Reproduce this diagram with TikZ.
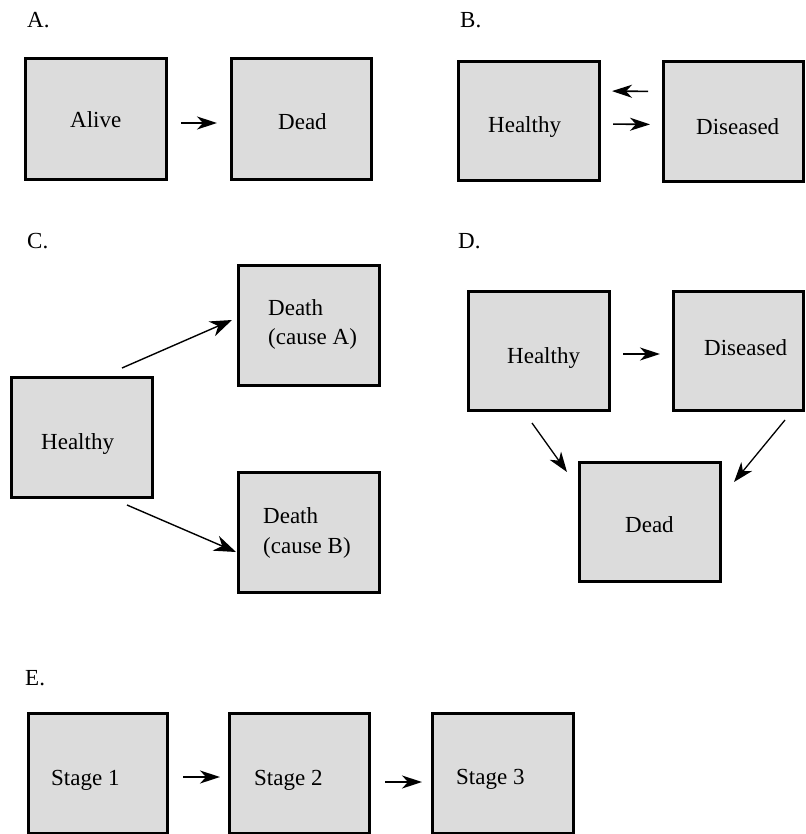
\documentclass[tikz,border=0pt]{standalone}
\usepackage{fontspec}
\setmainfont{Liberation Serif}[Ligatures=TeX]
\usetikzlibrary{arrows.meta}
\definecolor{boxgray}{RGB}{220,220,220}
\begin{document}
\rmfamily
\begin{tikzpicture}[x=1pt,y=-1pt,
  box/.style={rectangle, draw=black, line width=2.6pt, fill=boxgray, inner sep=0pt},
  txt/.style={anchor=base west, inner sep=0pt, font=\rmfamily\fontsize{23pt}{27pt}\selectfont},
  arr/.style={line width=1.6pt, -{Stealth[length=20pt,width=13pt,inset=6pt]}},
  darr/.style={line width=1.4pt, -{Stealth[length=22pt,width=16pt,inset=7pt]}},
  marr/.style={line width=1.3pt, -{Stealth[length=20pt,width=14pt,inset=6pt]}}]
\useasboundingbox (0,0) rectangle (805,834);

% --- A: two states ---
\node[txt] (lblA) at (27,28) {A.};
\node[box, minimum width=141.4pt, minimum height=121.4pt] (alive) at (96,119) {};
\node[box, minimum width=140.4pt, minimum height=121.4pt] (dead) at (301.5,119) {};
\node[txt] (tAlive) at (70,128) {Alive};
\node[txt] (tDead) at (278,130) {Dead};
\draw[arr, shorten <=13pt, shorten >=13pt] ([shift={(0,4)}]alive.east) -- ([shift={(0,4)}]dead.west);

% --- B: reversible illness ---
\node[txt] (lblB) at (460,28) {B.};
\node[box, minimum width=141.4pt, minimum height=119.4pt] (hB) at (529,121) {};
\node[box, minimum width=140.4pt, minimum height=120.4pt] (dB) at (733.5,121.5) {};
\node[txt] (tHB) at (488,133) {Healthy};
\node[txt] (tDB) at (696,135) {Diseased};
\draw[arr, shorten <=14pt, shorten >=11pt] ([shift={(0,-30)}]dB.west) -- ([shift={(0,-30)}]hB.east);
\draw[arr, shorten <=12pt, shorten >=12pt] ([shift={(0,3)}]hB.east) -- ([shift={(0,3)}]dB.west);

% --- C: competing causes of death ---
\node[txt] (lblC) at (27,248) {C.};
\node[box, minimum width=141.4pt, minimum height=120.4pt] (dA) at (309,325.5) {};
\node[box, minimum width=141.4pt, minimum height=120.4pt] (hC) at (82,437.5) {};
\node[box, minimum width=141.4pt, minimum height=120.4pt] (dBc) at (309,532.5) {};
\node[txt] (tDA1) at (268,315) {Death};
\node[txt] (tDA2) at (268,344) {(cause A)};
\node[txt] (tDB1) at (263,523) {Death};
\node[txt] (tDB2) at (263,553) {(cause B)};
\node[txt] (tHC) at (41,449) {Healthy};
\draw[darr] ([shift={(-32,-8)}]hC.north east) -- ([shift={(-5,-5.5)}]dA.west);
\draw[darr] ([shift={(-27,6)}]hC.south east) -- ([shift={(-1,19.5)}]dBc.west);

% --- D: illness-death model ---
\node[txt] (lblD) at (458,248) {D.};
\node[box, minimum width=141.4pt, minimum height=119.4pt] (hD) at (539,351) {};
\node[box, minimum width=130.4pt, minimum height=119.4pt] (dD) at (738.5,351) {};
\node[box, minimum width=141.4pt, minimum height=119.4pt] (deadD) at (650,522) {};
\node[txt] (tHD) at (507,363) {Healthy};
\node[txt] (tDD) at (704,355) {Diseased};
\node[txt] (tDeadD) at (625,532) {Dead};
\draw[arr, shorten <=12pt, shorten >=12pt] ([shift={(0,3)}]hD.east) -- ([shift={(0,3)}]dD.west);
\draw[marr] ([shift={(-7,11)}]hD.south) -- ([shift={(-11,11)}]deadD.north west);
\draw[marr] ([shift={(-20,8)}]dD.south east) -- ([shift={(12,21)}]deadD.north east);

% --- E: progressive stages ---
\node[txt] (lblE) at (25,685) {E.};
\node[box, minimum width=139.4pt, minimum height=120.4pt] (s1) at (98,773.5) {};
\node[box, minimum width=140.4pt, minimum height=120.4pt] (s2) at (299.5,773.5) {};
\node[box, minimum width=141.4pt, minimum height=120.4pt] (s3) at (503,773.5) {};
\node[txt] (tS1) at (51,785) {Stage 1};
\node[txt] (tS2) at (254,785) {Stage 2};
\node[txt] (tS3) at (456,784) {Stage 3};
\draw[arr, shorten <=14pt, shorten >=8pt] ([shift={(0,3.5)}]s1.east) -- ([shift={(0,3.5)}]s2.west);
\draw[arr, shorten <=14pt, shorten >=9pt] ([shift={(0,8.5)}]s2.east) -- ([shift={(0,8.5)}]s3.west);
\end{tikzpicture}
\end{document}
